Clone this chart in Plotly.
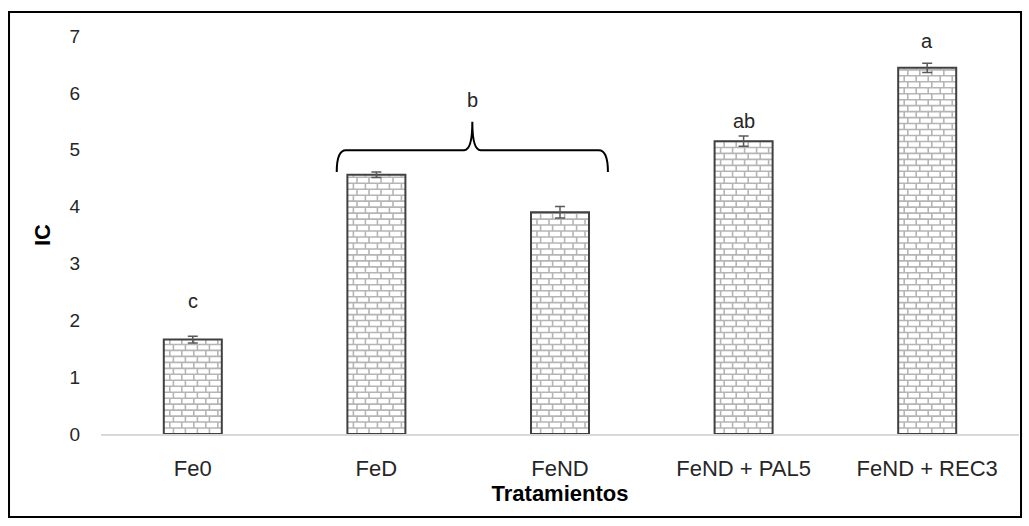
import plotly.graph_objects as go

# Data
categories = ["Fe0", "FeD", "FeND", "FeND + PAL5", "FeND + REC3"]
ic_values = [1.66, 4.56, 3.90, 5.15, 6.44]
ic_errors = [0.06, 0.05, 0.10, 0.09, 0.08]
group_letters = ["c", "", "", "ab", "a"]
shared_letter = "b"
y_ticks = [0, 1, 2, 3, 4, 5, 6, 7]

# Styling
BAR_W = 0.316          # bar width in category units
ROW_H = 0.105          # brick row height (data units)
BRICK_W = 0.0654       # brick width (category units)
MORTAR = "#b5b5b5"
OUTLINE = "#404040"
TEXT = "#262626"
FONT = "Liberation Sans, Arial, sans-serif"

xpos = list(range(len(categories)))

fig = go.Figure()

# White bar bodies
fig.add_trace(go.Bar(
    x=xpos, y=ic_values, width=BAR_W,
    marker=dict(color="white", line=dict(width=0)),
    hoverinfo="skip", showlegend=False,
))

# Brick mortar lines inside each bar
bx, by = [], []
for xc, v in zip(xpos, ic_values):
    left, right = xc - BAR_W / 2, xc + BAR_W / 2
    k = 0
    while k * ROW_H < v:
        y0 = k * ROW_H
        y1 = min((k + 1) * ROW_H, v)
        if k > 0:
            bx += [left, right, None]
            by += [y0, y0, None]
        xs = left + (BRICK_W / 2 if k % 2 else BRICK_W * 0.8)
        while xs < right - 0.005:
            bx += [xs, xs, None]
            by += [y0, y1, None]
            xs += BRICK_W
        k += 1
fig.add_trace(go.Scatter(
    x=bx, y=by, mode="lines",
    line=dict(color=MORTAR, width=1.6),
    hoverinfo="skip", showlegend=False,
))

# Bar outlines
ox, oy = [], []
for xc, v in zip(xpos, ic_values):
    left, right = xc - BAR_W / 2, xc + BAR_W / 2
    ox += [left, left, right, right, left, None]
    oy += [0, v, v, 0, 0, None]
fig.add_trace(go.Scatter(
    x=ox, y=oy, mode="lines",
    line=dict(color=OUTLINE, width=2),
    hoverinfo="skip", showlegend=False,
))

# Error bars
fig.add_trace(go.Scatter(
    x=xpos, y=ic_values, mode="markers",
    marker=dict(size=1, color="rgba(0,0,0,0)"),
    error_y=dict(type="data", array=ic_errors, visible=True,
                 color="#595959", thickness=1.5, width=5),
    hoverinfo="skip", showlegend=False,
))

# Significance letters
letter_offsets = [0.68, 0, 0, 0.35, 0.48]
for xc, v, lab, off in zip(xpos, ic_values, group_letters, letter_offsets):
    if lab:
        fig.add_annotation(x=xc, y=v + off, text=lab, showarrow=False,
                           font=dict(size=20, color=TEXT, family=FONT))

# Brace grouping FeD and FeND
bl, br = 0.784, 2.261
bm = (bl + br) / 2
yb, yh, yt = 4.61, 4.99, 5.49
brace = (f"M {bl},{yb} Q {bl},{yh} {bl + 0.05},{yh} L {bm - 0.045},{yh} "
         f"Q {bm},{yh} {bm},{yt} Q {bm},{yh} {bm + 0.045},{yh} "
         f"L {br - 0.05},{yh} Q {br},{yh} {br},{yb}")
fig.add_shape(type="path", path=brace, xref="x", yref="y",
              line=dict(color="black", width=2))
fig.add_annotation(x=bm, y=5.87, text=shared_letter, showarrow=False,
                   font=dict(size=20, color=TEXT, family=FONT))

# Outer frame
fig.add_shape(type="rect", xref="paper", yref="paper",
              x0=-0.1002, x1=1.0022, y0=-0.2085, y1=1.0603,
              line=dict(color="black", width=2), fillcolor="rgba(0,0,0,0)")

fig.update_layout(
    width=1029, height=526,
    margin=dict(l=101, r=10, t=36, b=92),
    paper_bgcolor="white", plot_bgcolor="white",
    font=dict(family=FONT, size=18, color=TEXT),
    showlegend=False,
    bargap=0,
)
fig.update_xaxes(
    range=[-0.5, 4.5], tickmode="array", tickvals=xpos, ticktext=categories,
    showgrid=False, zeroline=False, showline=True, linecolor="#d9d9d9",
    linewidth=1.5, ticks="", ticklabelstandoff=14,
    tickfont=dict(size=22, color=TEXT),
    title=dict(text="<b>Tratamientos</b>", font=dict(size=22, color="black"),
               standoff=2),
)
fig.update_yaxes(
    range=[0, 7], tickmode="array", tickvals=y_ticks,
    showgrid=False, zeroline=False, showline=False, ticks="",
    ticklabelstandoff=20, tickfont=dict(size=19, color=TEXT),
    title=dict(text="<b>IC</b>", font=dict(size=22, color="black"),
               standoff=12),
)

fig.write_html("out.html")
